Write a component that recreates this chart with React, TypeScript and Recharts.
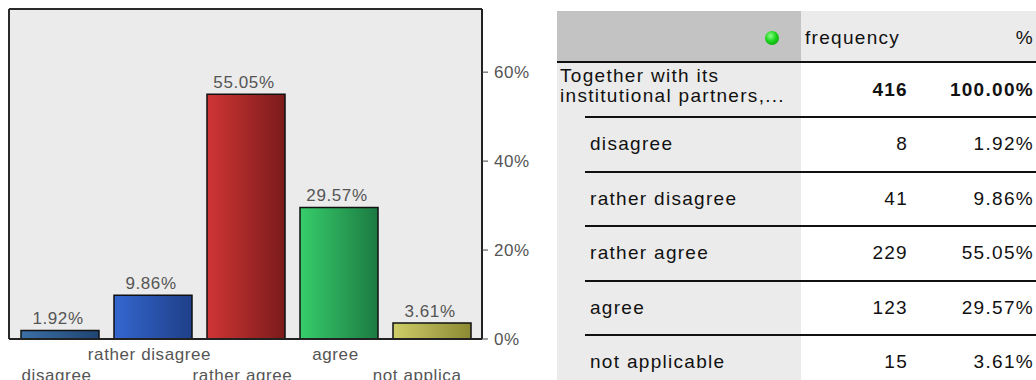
import React from "react";
import { Bar, BarChart, CartesianGrid, Cell, LabelList, XAxis, YAxis } from "recharts";

const categories = ["disagree", "rather disagree", "rather agree", "agree", "not applicable"];
const frequencies = [8, 41, 229, 123, 15];
const percents = [1.92, 9.86, 55.05, 29.57, 3.61];
const yTicks = [0, 20, 40, 60];
const totalTitle = ["Together with its", "institutional partners,..."];
const totalFrequency = 416;
const totalPercent = 100;

// left / right stops of the horizontal gradient on each bar
const barColors = [
  ["#3b6fa6", "#1f4572"],
  ["#3467cf", "#1f3f88"],
  ["#d03535", "#7b1b1b"],
  ["#37cd6b", "#1c7a42"],
  ["#cfcd68", "#8b8933"],
];

const data = categories.map((name, i) => ({ name, pct: percents[i] }));

const FONT = '"Liberation Sans", Arial, sans-serif';
const chartText = { fill: "#555", fontSize: 17, fontFamily: FONT, letterSpacing: 0.6 };
const PLOT_RIGHT = 482;

function CategoryTick(props: any) {
  const { x, y, payload, index } = props;
  const full = String(payload.value);
  const estWidth = full.length * 8.4;
  const lineY = y + (index % 2 === 1 ? 21 : 42);
  if (x + estWidth / 2 > PLOT_RIGHT) {
    // label runs past the plot edge: keep its start, cut the tail
    return (
      <text x={x - estWidth / 2} y={lineY} textAnchor="start" style={chartText}>
        {full.slice(0, 11)}
      </text>
    );
  }
  return (
    <text x={x - 3} y={lineY} textAnchor="middle" style={chartText}>
      {full}
    </text>
  );
}

const renderPct = (props: any) => {
  const { x, y, width, value } = props;
  return (
    <text x={Number(x) + Number(width) / 2 - 2} y={Number(y) - 6} textAnchor="middle" style={chartText}>
      {Number(value).toFixed(2)}%
    </text>
  );
};

function FrequencyTable() {
  const cell = { fontFamily: FONT, fontSize: 19, letterSpacing: 1.3, color: "#111" } as const;
  const rowTop = 117;
  const rowH = 54.5;
  return (
    <div style={{ position: "absolute", left: 557, top: 0, width: 479, height: 380, overflow: "hidden" }}>
      <div style={{ position: "absolute", left: 0, top: 63, width: 244, height: 330, background: "#ebebeb" }} />
      <div style={{ position: "absolute", left: 0, top: 11, width: 244, height: 51, background: "#c3c3c3" }} />
      <div style={{ position: "absolute", left: 244, top: 11, width: 235, height: 51, background: "#ebebeb" }} />
      <div
        style={{
          position: "absolute", left: 208, top: 31, width: 14, height: 14, borderRadius: 7,
          background: "radial-gradient(circle at 40% 35%, #8dff8d 0%, #1bd41b 45%, #0b8f0b 100%)",
        }}
      />
      <div style={{ ...cell, position: "absolute", left: 248, top: 26, lineHeight: "24px" }}>frequency</div>
      <div style={{ ...cell, position: "absolute", right: 2, top: 26, lineHeight: "24px" }}>%</div>
      <div style={{ position: "absolute", left: 0, top: 61, width: 479, height: 2, background: "#111" }} />

      <div style={{ ...cell, position: "absolute", left: 3, top: 66, lineHeight: "20px" }}>
        {totalTitle[0]}
        <br />
        {totalTitle[1]}
      </div>
      <div style={{ ...cell, fontWeight: "bold", position: "absolute", right: 128, top: 78, lineHeight: "24px" }}>
        {totalFrequency}
      </div>
      <div style={{ ...cell, fontWeight: "bold", position: "absolute", right: 2, top: 78, lineHeight: "24px" }}>
        {totalPercent.toFixed(2)}%
      </div>
      <div style={{ position: "absolute", left: 28, top: 116, width: 451, height: 2, background: "#111" }} />

      {categories.map((name, i) => {
        const top = rowTop + i * rowH;
        return (
          <React.Fragment key={name}>
            <div style={{ ...cell, position: "absolute", left: 33, top: top + 15, lineHeight: "24px" }}>{name}</div>
            <div style={{ ...cell, position: "absolute", right: 128, top: top + 15, lineHeight: "24px" }}>
              {frequencies[i]}
            </div>
            <div style={{ ...cell, position: "absolute", right: 2, top: top + 15, lineHeight: "24px" }}>
              {percents[i].toFixed(2)}%
            </div>
            <div
              style={{ position: "absolute", left: 28, top: top + rowH - 1, width: 451, height: 2, background: "#111" }}
            />
          </React.Fragment>
        );
      })}
    </div>
  );
}

export default function App() {
  return (
    <div style={{ position: "relative", width: 1036, height: 380, background: "#fff", overflow: "hidden" }}>
      <style>{"body{margin:0}"}</style>
      <div style={{ position: "absolute", left: 0, top: 0 }}>
        <BarChart width={545} height={380} data={data} margin={{ top: 9, left: 9, right: 0, bottom: 0 }}>
          <defs>
            {barColors.map((c, i) => (
              <linearGradient key={i} id={`bar-grad-${i}`} x1="0" y1="0" x2="1" y2="0">
                <stop offset="0%" stopColor={c[0]} />
                <stop offset="100%" stopColor={c[1]} />
              </linearGradient>
            ))}
          </defs>
          <CartesianGrid
            fill="#ebebeb"
            fillOpacity={1}
            horizontalPoints={[9]}
            verticalPoints={[9]}
            stroke="#2a2a2a"
            strokeWidth={2}
          />
          <XAxis
            dataKey="name"
            interval={0}
            height={41}
            padding={{ left: 4, right: 4 }}
            axisLine={{ stroke: "#222", strokeWidth: 2 }}
            tickLine={false}
            tickSize={0}
            tickMargin={0}
            tick={<CategoryTick />}
          />
          <YAxis
            orientation="right"
            width={63}
            domain={[0, 74.2]}
            ticks={yTicks}
            tickFormatter={(v) => `${v}%`}
            tickSize={6}
            tickMargin={6}
            axisLine={{ stroke: "#222", strokeWidth: 2 }}
            tickLine={{ stroke: "#444" }}
            tick={chartText}
          />
          <Bar dataKey="pct" barSize={78} stroke="#111" strokeWidth={1.5} isAnimationActive={false}>
            {data.map((d, i) => (
              <Cell key={d.name} fill={`url(#bar-grad-${i})`} />
            ))}
            <LabelList dataKey="pct" content={renderPct} />
          </Bar>
        </BarChart>
      </div>
      <FrequencyTable />
    </div>
  );
}
